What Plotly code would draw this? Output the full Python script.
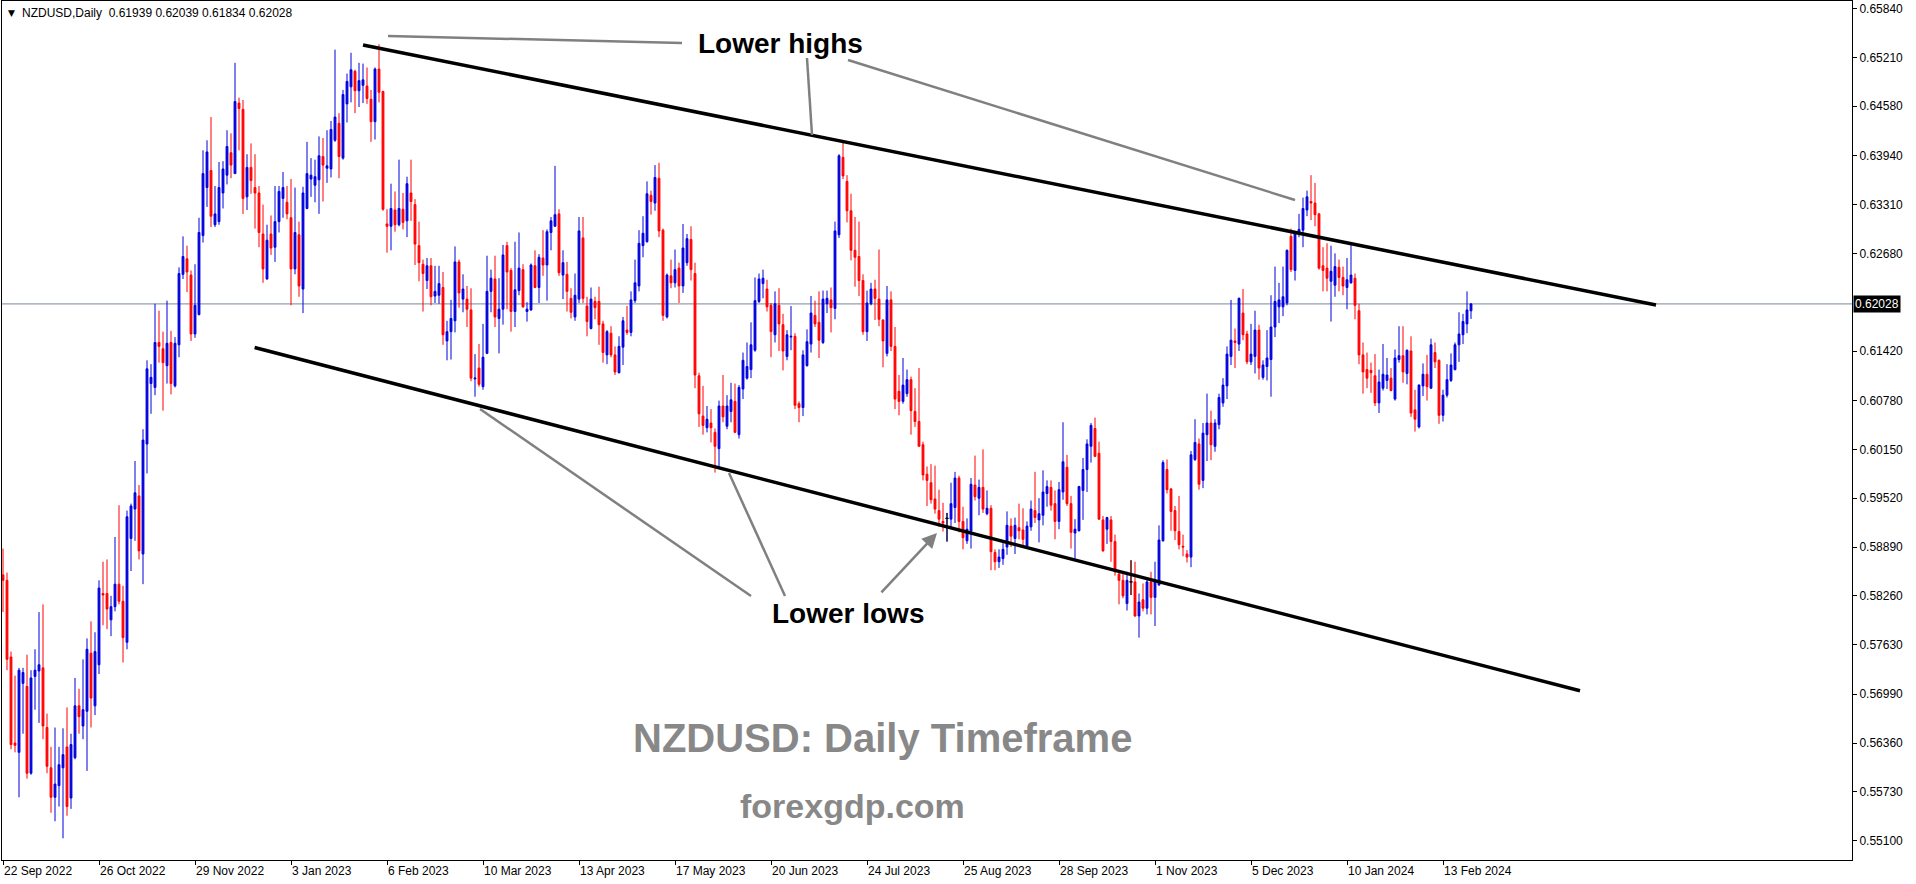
import plotly.graph_objects as go

# ---------------- data ----------------
opens = [
    0.5853, 0.5846, 0.5747, 0.5636, 0.5624, 0.5713, 0.5709, 0.5597, 0.5722, 0.5729,
    0.5733, 0.5656, 0.5604, 0.5566, 0.5581, 0.5604, 0.5631, 0.5565, 0.5617, 0.5684,
    0.5658, 0.5677, 0.5752, 0.5684, 0.5737, 0.5829, 0.5829, 0.5795, 0.5812, 0.5841,
    0.5819, 0.5766, 0.5900, 0.5938, 0.5955, 0.5880, 0.6022, 0.6100, 0.6095, 0.6153,
    0.6145, 0.6123, 0.6153, 0.6097, 0.6150, 0.6241, 0.6261, 0.6240, 0.6164, 0.6189,
    0.6291, 0.6353, 0.6375, 0.6305, 0.6309, 0.6346, 0.6369, 0.6398, 0.6371, 0.6462,
    0.6454, 0.6341, 0.6379, 0.6353, 0.6346, 0.6293, 0.6235, 0.6293, 0.6276, 0.6309,
    0.6339, 0.6334, 0.6314, 0.6248, 0.6292, 0.6222, 0.6326, 0.6364, 0.6356, 0.6363,
    0.6393, 0.6378, 0.6377, 0.6414, 0.6436, 0.6391, 0.6461, 0.6483, 0.6503, 0.6478,
    0.6485, 0.6484, 0.6467, 0.6438, 0.6506, 0.6477, 0.6306, 0.6303, 0.6324, 0.6305,
    0.6325, 0.6310, 0.6346, 0.6331, 0.6278, 0.6254, 0.6233, 0.6252, 0.6213, 0.6214,
    0.6224, 0.6155, 0.6167, 0.6181, 0.6257, 0.6209, 0.6209, 0.6195, 0.6106, 0.6120,
    0.6096, 0.6139, 0.6219, 0.6235, 0.6184, 0.6196, 0.6278, 0.6246, 0.6193, 0.6220,
    0.6247, 0.6193, 0.6195, 0.6252, 0.6224, 0.6262, 0.6253, 0.6295, 0.6303, 0.6319,
    0.6240, 0.6241, 0.6210, 0.6186, 0.6209, 0.6288, 0.6200, 0.6171, 0.6206, 0.6206,
    0.6177, 0.6137, 0.6165, 0.6137, 0.6114, 0.6147, 0.6169, 0.6166, 0.6207, 0.6226,
    0.6278, 0.6283, 0.6343, 0.6333, 0.6365, 0.6298, 0.6186, 0.6239, 0.6230, 0.6249,
    0.6226, 0.6256, 0.6286, 0.6242, 0.6110, 0.6058, 0.6043, 0.6049, 0.6037, 0.6016,
    0.6071, 0.6045, 0.6064, 0.6077, 0.6034, 0.6093, 0.6107, 0.6118, 0.6143, 0.6206,
    0.6229, 0.6222, 0.6201, 0.6163, 0.6201, 0.6176, 0.6135, 0.6160, 0.6161, 0.6074,
    0.6069, 0.6123, 0.6151, 0.6188, 0.6179, 0.6153, 0.6203, 0.6208, 0.6197, 0.6292,
    0.6392, 0.6361, 0.6323, 0.6272, 0.6264, 0.6233, 0.6167, 0.6203, 0.6222, 0.6209,
    0.6182, 0.6139, 0.6208, 0.6148, 0.6090, 0.6077, 0.6087, 0.6105, 0.6064, 0.6051,
    0.6021, 0.5983, 0.5972, 0.5951, 0.5936, 0.5922, 0.5926, 0.5925, 0.5940, 0.5978,
    0.5922, 0.5897, 0.5909, 0.5969, 0.5952, 0.5966, 0.5932, 0.5939, 0.5882, 0.5870,
    0.5874, 0.5889, 0.5916, 0.5900, 0.5914, 0.5911, 0.5890, 0.5915, 0.5936, 0.5924,
    0.5930, 0.5958, 0.5966, 0.5945, 0.5922, 0.5960, 0.5992, 0.5945, 0.5907, 0.5910,
    0.5962, 0.5989, 0.6019, 0.6042, 0.6010, 0.5924, 0.5912, 0.5924, 0.5896, 0.5854,
    0.5846, 0.5816, 0.5844, 0.5844, 0.5800, 0.5821, 0.5810, 0.5844, 0.5824, 0.5840,
    0.5897, 0.5989, 0.5964, 0.5936, 0.5909, 0.5890, 0.5880, 0.5876, 0.6002, 0.6022,
    0.5975, 0.6034, 0.6049, 0.6019, 0.6047, 0.6075, 0.6097, 0.6135, 0.6155, 0.6151,
    0.6191, 0.6164, 0.6128, 0.6135, 0.6169, 0.6108, 0.6122, 0.6131, 0.6173, 0.6199,
    0.6199, 0.6204, 0.6290, 0.6246, 0.6293, 0.6298, 0.6324, 0.6335, 0.6333, 0.6319,
    0.6252, 0.6249, 0.6232, 0.6227, 0.6250, 0.6237, 0.6224, 0.6230, 0.6236, 0.6194,
    0.6137, 0.6118, 0.6117, 0.6110, 0.6075, 0.6094, 0.6104, 0.6107, 0.6080, 0.6131,
    0.6136, 0.6113, 0.6142, 0.6066, 0.6044, 0.6097, 0.6112, 0.6094, 0.6140, 0.6130,
    0.6059, 0.6085, 0.6104, 0.6118, 0.6150, 0.6163, 0.6177, 0.61939,
]
highs = [
    0.5887, 0.5856, 0.5754, 0.5723, 0.5733, 0.5733, 0.5750, 0.5730, 0.5757, 0.5805,
    0.5815, 0.5674, 0.5631, 0.5656, 0.5631, 0.5655, 0.5682, 0.5648, 0.5720, 0.5706,
    0.5744, 0.5771, 0.5793, 0.5779, 0.5846, 0.5870, 0.5873, 0.5826, 0.5902, 0.5943,
    0.5839, 0.5936, 0.5945, 0.6000, 0.5969, 0.6041, 0.6130, 0.6125, 0.6203, 0.6194,
    0.6167, 0.6207, 0.6168, 0.6160, 0.6250, 0.6290, 0.6278, 0.6246, 0.6254, 0.6314,
    0.6401, 0.6414, 0.6444, 0.6355, 0.6386, 0.6387, 0.6427, 0.6423, 0.6514, 0.6469,
    0.6466, 0.6396, 0.6410, 0.6396, 0.6355, 0.6331, 0.6305, 0.6317, 0.6355, 0.6355,
    0.6373, 0.6355, 0.6364, 0.6353, 0.6309, 0.6354, 0.6412, 0.6391, 0.6389, 0.6419,
    0.6417, 0.6427, 0.6439, 0.6531, 0.6449, 0.6479, 0.6500, 0.6527, 0.6505, 0.6514,
    0.6513, 0.6508, 0.6479, 0.6508, 0.6538, 0.6478, 0.6325, 0.6358, 0.6348, 0.6389,
    0.6346, 0.6367, 0.6389, 0.6338, 0.6309, 0.6260, 0.6262, 0.6262, 0.6252, 0.6252,
    0.6244, 0.6181, 0.6208, 0.6277, 0.6260, 0.6241, 0.6226, 0.6223, 0.6138, 0.6151,
    0.6177, 0.6265, 0.6247, 0.6265, 0.6236, 0.6279, 0.6283, 0.6249, 0.6283, 0.6295,
    0.6254, 0.6205, 0.6255, 0.6272, 0.6267, 0.6298, 0.6299, 0.6315, 0.6381, 0.6325,
    0.6272, 0.6257, 0.6223, 0.6242, 0.6315, 0.6315, 0.6212, 0.6224, 0.6212, 0.6225,
    0.6181, 0.6169, 0.6174, 0.6148, 0.6161, 0.6186, 0.6200, 0.6219, 0.6260, 0.6298,
    0.6316, 0.6361, 0.6349, 0.6382, 0.6385, 0.6300, 0.6242, 0.6260, 0.6273, 0.6256,
    0.6306, 0.6293, 0.6303, 0.6256, 0.6114, 0.6097, 0.6071, 0.6067, 0.6042, 0.6078,
    0.6111, 0.6085, 0.6101, 0.6100, 0.6098, 0.6140, 0.6153, 0.6179, 0.6237, 0.6242,
    0.6247, 0.6234, 0.6204, 0.6219, 0.6223, 0.6190, 0.6169, 0.6200, 0.6165, 0.6077,
    0.6143, 0.6170, 0.6213, 0.6207, 0.6219, 0.6220, 0.6220, 0.6224, 0.6309, 0.6396,
    0.6411, 0.6369, 0.6345, 0.6315, 0.6309, 0.6241, 0.6220, 0.6230, 0.6234, 0.6273,
    0.6183, 0.6226, 0.6219, 0.6173, 0.6111, 0.6133, 0.6118, 0.6109, 0.6094, 0.6120,
    0.6025, 0.5993, 0.5996, 0.5994, 0.5963, 0.5946, 0.5933, 0.5972, 0.5986, 0.5981,
    0.5941, 0.5926, 0.5978, 0.6007, 0.5976, 0.6015, 0.5962, 0.5943, 0.5886, 0.5886,
    0.5894, 0.5935, 0.5926, 0.5927, 0.5945, 0.5939, 0.5922, 0.5949, 0.5986, 0.5952,
    0.5988, 0.5975, 0.5975, 0.5962, 0.5973, 0.6050, 0.6008, 0.5955, 0.5925, 0.5968,
    0.6004, 0.6028, 0.6049, 0.6056, 0.6025, 0.5929, 0.5928, 0.5929, 0.5905, 0.5857,
    0.5854, 0.5857, 0.5872, 0.5870, 0.5829, 0.5842, 0.5847, 0.5857, 0.5870, 0.5917,
    0.6001, 0.6002, 0.5965, 0.5942, 0.5955, 0.5905, 0.5885, 0.6013, 0.6054, 0.6029,
    0.6049, 0.6087, 0.6065, 0.6054, 0.6087, 0.6107, 0.6148, 0.6208, 0.6171, 0.6211,
    0.6222, 0.6168, 0.6177, 0.6194, 0.6176, 0.6130, 0.6169, 0.6214, 0.6251, 0.6230,
    0.6251, 0.6273, 0.6300, 0.6297, 0.6319, 0.6340, 0.6349, 0.6369, 0.6359, 0.6320,
    0.6276, 0.6281, 0.6278, 0.6268, 0.6260, 0.6251, 0.6262, 0.6279, 0.6242, 0.6203,
    0.6153, 0.6140, 0.6127, 0.6138, 0.6118, 0.6151, 0.6133, 0.6120, 0.6144, 0.6174,
    0.6174, 0.6144, 0.6161, 0.6092, 0.6099, 0.6126, 0.6137, 0.6158, 0.6153, 0.6131,
    0.6092, 0.6125, 0.6139, 0.6153, 0.6192, 0.6190, 0.6219, 0.62039,
]
lows = [
    0.5805, 0.5730, 0.5628, 0.5624, 0.5566, 0.5648, 0.5590, 0.5595, 0.5679, 0.5662,
    0.5641, 0.5597, 0.5546, 0.5535, 0.5554, 0.5513, 0.5542, 0.5551, 0.5615, 0.5648,
    0.5641, 0.5600, 0.5656, 0.5672, 0.5725, 0.5788, 0.5783, 0.5774, 0.5806, 0.5815,
    0.5740, 0.5757, 0.5858, 0.5897, 0.5873, 0.5841, 0.5984, 0.6061, 0.6085, 0.6127,
    0.6065, 0.6100, 0.6086, 0.6095, 0.6134, 0.6235, 0.6218, 0.6155, 0.6159, 0.6188,
    0.6282, 0.6328, 0.6302, 0.6302, 0.6305, 0.6326, 0.6357, 0.6365, 0.6371, 0.6401,
    0.6319, 0.6324, 0.6345, 0.6300, 0.6276, 0.6230, 0.6234, 0.6266, 0.6257, 0.6295,
    0.6314, 0.6312, 0.6201, 0.6241, 0.6212, 0.6191, 0.6325, 0.6341, 0.6334, 0.6319,
    0.6335, 0.6359, 0.6366, 0.6412, 0.6365, 0.6389, 0.6437, 0.6463, 0.6449, 0.6457,
    0.6462, 0.6461, 0.6412, 0.6415, 0.6463, 0.6323, 0.6269, 0.6272, 0.6296, 0.6303,
    0.6299, 0.6289, 0.6310, 0.6253, 0.6232, 0.6193, 0.6222, 0.6201, 0.6204, 0.6203,
    0.6150, 0.6130, 0.6131, 0.6166, 0.6198, 0.6192, 0.6173, 0.6103, 0.6083, 0.6096,
    0.6092, 0.6138, 0.6192, 0.6173, 0.6139, 0.6176, 0.6196, 0.6167, 0.6173, 0.6214,
    0.6198, 0.6180, 0.6194, 0.6223, 0.6204, 0.6239, 0.6207, 0.6272, 0.6303, 0.6239,
    0.6209, 0.6193, 0.6184, 0.6181, 0.6204, 0.6204, 0.6161, 0.6170, 0.6183, 0.6150,
    0.6127, 0.6125, 0.6134, 0.6111, 0.6113, 0.6124, 0.6163, 0.6161, 0.6204, 0.6219,
    0.6263, 0.6282, 0.6318, 0.6323, 0.6289, 0.6181, 0.6184, 0.6223, 0.6224, 0.6204,
    0.6217, 0.6252, 0.6233, 0.6094, 0.6044, 0.6034, 0.6037, 0.6024, 0.5985, 0.5992,
    0.6050, 0.6041, 0.6050, 0.6036, 0.6029, 0.6080, 0.6105, 0.6107, 0.6141, 0.6204,
    0.6210, 0.6193, 0.6134, 0.6153, 0.6142, 0.6117, 0.6130, 0.6143, 0.6067, 0.6050,
    0.6058, 0.6122, 0.6140, 0.6173, 0.6133, 0.6151, 0.6191, 0.6166, 0.6183, 0.6288,
    0.6364, 0.6308, 0.6259, 0.6225, 0.6213, 0.6163, 0.6155, 0.6201, 0.6182, 0.6174,
    0.6121, 0.6135, 0.6142, 0.6067, 0.6059, 0.6074, 0.6083, 0.6034, 0.6044, 0.6019,
    0.5975, 0.5942, 0.5945, 0.5932, 0.5915, 0.5909, 0.5896, 0.5914, 0.5920, 0.5908,
    0.5886, 0.5893, 0.5887, 0.5949, 0.5930, 0.5933, 0.5930, 0.5859, 0.5859, 0.5862,
    0.5866, 0.5879, 0.5889, 0.5880, 0.5899, 0.5889, 0.5888, 0.5910, 0.5920, 0.5895,
    0.5917, 0.5941, 0.5936, 0.5899, 0.5912, 0.5950, 0.5942, 0.5887, 0.5874, 0.5909,
    0.5924, 0.5960, 0.5998, 0.6006, 0.5924, 0.5883, 0.5893, 0.5870, 0.5852, 0.5815,
    0.5823, 0.5807, 0.5827, 0.5799, 0.5772, 0.5806, 0.5802, 0.5802, 0.5787, 0.5839,
    0.5896, 0.5958, 0.5910, 0.5898, 0.5886, 0.5877, 0.5869, 0.5863, 0.6000, 0.5963,
    0.5965, 0.6000, 0.6001, 0.6012, 0.6041, 0.6070, 0.6080, 0.6124, 0.6120, 0.6142,
    0.6156, 0.6125, 0.6124, 0.6113, 0.6105, 0.6105, 0.6104, 0.6083, 0.6160, 0.6178,
    0.6187, 0.6201, 0.6244, 0.6233, 0.6289, 0.6276, 0.6316, 0.6311, 0.6303, 0.6247,
    0.6219, 0.6219, 0.6180, 0.6212, 0.6219, 0.6214, 0.6196, 0.6229, 0.6183, 0.6125,
    0.6087, 0.6094, 0.6088, 0.6071, 0.6062, 0.6091, 0.6093, 0.6090, 0.6078, 0.6127,
    0.6101, 0.6099, 0.6057, 0.6038, 0.6042, 0.6084, 0.6078, 0.6093, 0.6120, 0.6048,
    0.6051, 0.6082, 0.6102, 0.6117, 0.6128, 0.6151, 0.6165, 0.61834,
]
closes = [
    0.5846, 0.5744, 0.5634, 0.5633, 0.5730, 0.5727, 0.5597, 0.5720, 0.5730, 0.5737,
    0.5658, 0.5606, 0.5566, 0.5583, 0.5608, 0.5621, 0.5554, 0.5634, 0.5684, 0.5670,
    0.5679, 0.5757, 0.5694, 0.5754, 0.5836, 0.5827, 0.5809, 0.5812, 0.5841, 0.5819,
    0.5772, 0.5928, 0.5942, 0.5959, 0.5884, 0.6027, 0.6119, 0.6108, 0.6153, 0.6148,
    0.6127, 0.6152, 0.6100, 0.6152, 0.6242, 0.6264, 0.6244, 0.6164, 0.6201, 0.6295,
    0.6371, 0.6399, 0.6316, 0.6319, 0.6353, 0.6377, 0.6406, 0.6382, 0.6464, 0.6455,
    0.6339, 0.6379, 0.6362, 0.6346, 0.6295, 0.6248, 0.6285, 0.6275, 0.6309, 0.6348,
    0.6353, 0.6319, 0.6248, 0.6295, 0.6226, 0.6346, 0.6371, 0.6369, 0.6367, 0.6394,
    0.6382, 0.6381, 0.6428, 0.6444, 0.6393, 0.6473, 0.6490, 0.6505, 0.6478, 0.6491,
    0.6492, 0.6468, 0.6438, 0.6506, 0.6476, 0.6325, 0.6303, 0.6326, 0.6305, 0.6326,
    0.6308, 0.6358, 0.6335, 0.6280, 0.6256, 0.6242, 0.6252, 0.6212, 0.6219, 0.6229,
    0.6163, 0.6167, 0.6184, 0.6257, 0.6217, 0.6222, 0.6196, 0.6107, 0.6107, 0.6099,
    0.6134, 0.6219, 0.6236, 0.6186, 0.6196, 0.6266, 0.6244, 0.6193, 0.6221, 0.6249,
    0.6199, 0.6196, 0.6253, 0.6224, 0.6263, 0.6253, 0.6296, 0.6310, 0.6318, 0.6243,
    0.6256, 0.6219, 0.6192, 0.6214, 0.6297, 0.6210, 0.6180, 0.6209, 0.6198, 0.6176,
    0.6140, 0.6167, 0.6137, 0.6115, 0.6148, 0.6181, 0.6166, 0.6208, 0.6230, 0.6281,
    0.6294, 0.6345, 0.6335, 0.6366, 0.6297, 0.6188, 0.6240, 0.6230, 0.6247, 0.6226,
    0.6275, 0.6287, 0.6247, 0.6111, 0.6061, 0.6046, 0.6054, 0.6043, 0.6019, 0.6071,
    0.6057, 0.6071, 0.6079, 0.6037, 0.6095, 0.6130, 0.6122, 0.6150, 0.6207, 0.6235,
    0.6236, 0.6199, 0.6167, 0.6203, 0.6177, 0.6142, 0.6163, 0.6161, 0.6072, 0.6069,
    0.6137, 0.6154, 0.6191, 0.6177, 0.6156, 0.6209, 0.6210, 0.6198, 0.6297, 0.6394,
    0.6368, 0.6323, 0.6272, 0.6263, 0.6233, 0.6167, 0.6204, 0.6222, 0.6210, 0.6183,
    0.6155, 0.6208, 0.6148, 0.6080, 0.6077, 0.6098, 0.6105, 0.6065, 0.6051, 0.6019,
    0.5982, 0.5975, 0.5950, 0.5938, 0.5925, 0.5920, 0.5926, 0.5945, 0.5978, 0.5922,
    0.5901, 0.5912, 0.5970, 0.5954, 0.5966, 0.5938, 0.5939, 0.5883, 0.5870, 0.5876,
    0.5886, 0.5917, 0.5903, 0.5917, 0.5910, 0.5899, 0.5916, 0.5938, 0.5927, 0.5932,
    0.5960, 0.5967, 0.5943, 0.5922, 0.5963, 0.5999, 0.5945, 0.5908, 0.5912, 0.5967,
    0.5989, 0.6022, 0.6046, 0.6006, 0.5925, 0.5884, 0.5927, 0.5896, 0.5857, 0.5846,
    0.5826, 0.5846, 0.5844, 0.5800, 0.5818, 0.5810, 0.5844, 0.5824, 0.5846, 0.5898,
    0.5998, 0.5963, 0.5935, 0.5910, 0.5892, 0.5889, 0.5876, 0.6008, 0.6024, 0.5970,
    0.6036, 0.6049, 0.6021, 0.6049, 0.6082, 0.6098, 0.6138, 0.6156, 0.6153, 0.6210,
    0.6163, 0.6128, 0.6138, 0.6169, 0.6120, 0.6124, 0.6133, 0.6173, 0.6206, 0.6208,
    0.6212, 0.6272, 0.6247, 0.6296, 0.6299, 0.6326, 0.6341, 0.6333, 0.6318, 0.6249,
    0.6246, 0.6236, 0.6245, 0.6251, 0.6237, 0.6226, 0.6234, 0.6240, 0.6201, 0.6137,
    0.6115, 0.6107, 0.6114, 0.6075, 0.6102, 0.6112, 0.6111, 0.6091, 0.6133, 0.6136,
    0.6115, 0.6143, 0.6062, 0.6054, 0.6098, 0.6112, 0.6096, 0.6150, 0.6128, 0.6059,
    0.6085, 0.6105, 0.6124, 0.6150, 0.6164, 0.6180, 0.6195, 0.62028,
]

date_ticks = [0, 24, 48, 72, 96, 120, 144, 168, 192, 216, 240, 264, 288, 312, 336, 360]
date_labels = ["22 Sep 2022", "26 Oct 2022", "29 Nov 2022", "3 Jan 2023", "6 Feb 2023",
               "10 Mar 2023", "13 Apr 2023", "17 May 2023", "20 Jun 2023", "24 Jul 2023",
               "25 Aug 2023", "28 Sep 2023", "1 Nov 2023", "5 Dec 2023", "10 Jan 2024",
               "13 Feb 2024"]
price_ticks = [0.65840, 0.65210, 0.64580, 0.63940, 0.63310, 0.62680, 0.61420, 0.60780,
               0.60150, 0.59520, 0.58890, 0.58260, 0.57630, 0.56990, 0.56360, 0.55730, 0.55100]
last_price = 0.62028
header_text = "NZDUSD,Daily  0.61939 0.62039 0.61834 0.62028"

# drawn objects, anchored in (bar index, price)
upper_channel = [(90.0, 0.65370), (413.25, 0.62014)]
lower_channel = [(62.9, 0.61465), (394.25, 0.57034)]
pointer_lines = [
    [(96.25, 0.65486), (169.75, 0.65396)],
    [(201.0, 0.65202), (202.25, 0.64208)],
    [(211.25, 0.65177), (323.0, 0.63369)],
    [(119.25, 0.60671), (187.0, 0.58258)],
    [(181.5, 0.59845), (195.5, 0.58258)],
]
pointer_arrow = [(219.25, 0.58284), (233.5, 0.59071)]

assert len(opens) == len(highs) == len(lows) == len(closes), (len(opens), len(highs), len(lows), len(closes))

# ---------------- figure ----------------
W, H = 1916, 884
PL, PR, PT, PB = 2, 1852, 1, 860
BLUE = "#0000DD"
RED = "#FF0000"
GRAY = "#888888"
FONT = "Liberation Sans"

xs = list(range(len(closes)))

fig = go.Figure()
fig.add_trace(go.Candlestick(
    x=xs, open=opens, high=highs, low=lows, close=closes,
    increasing=dict(line=dict(color=BLUE, width=1), fillcolor=BLUE),
    decreasing=dict(line=dict(color=RED, width=1), fillcolor=RED),
    whiskerwidth=0, hoverinfo="skip", showlegend=False,
))

# doji bars drawn as black crosses
dx, dy = [], []
for i in xs:
    if opens[i] == closes[i]:
        dx += [i, i, None, i - 0.45, i + 0.45, None]
        dy += [lows[i], highs[i], None, opens[i], opens[i], None]
if dx:
    fig.add_trace(go.Scatter(x=dx, y=dy, mode="lines", line=dict(color="black", width=1),
                             hoverinfo="skip", showlegend=False))

shapes = []
# last price line
shapes.append(dict(type="line", xref="paper", yref="y", x0=0, x1=1, y0=last_price, y1=last_price,
                   line=dict(color="#778899", width=1), layer="below"))
for (a, b) in (upper_channel, lower_channel):
    shapes.append(dict(type="line", xref="x", yref="y", x0=a[0], y0=a[1], x1=b[0], y1=b[1],
                       line=dict(color="black", width=3.5)))
for (a, b) in pointer_lines:
    shapes.append(dict(type="line", xref="x", yref="y", x0=a[0], y0=a[1], x1=b[0], y1=b[1],
                       line=dict(color="#808080", width=2.5)))


def px_x(p):
    return (p - PL) / (PR - PL)


def px_y(p):
    return 1 - (p - PT) / (PB - PT)


annotations = [
    dict(x=pointer_arrow[1][0], y=pointer_arrow[1][1], ax=pointer_arrow[0][0], ay=pointer_arrow[0][1],
         xref="x", yref="y", axref="x", ayref="y", text="", showarrow=True,
         arrowhead=2, arrowsize=1.2, arrowwidth=2.5, arrowcolor="#808080"),
    dict(x=px_x(780), y=px_y(43), xref="paper", yref="paper", text="Lower highs", showarrow=False,
         xanchor="center", yanchor="middle",
         font=dict(family=FONT, size=28, color="black", weight="bold")),
    dict(x=px_x(848), y=px_y(613), xref="paper", yref="paper", text="Lower lows", showarrow=False,
         xanchor="center", yanchor="middle",
         font=dict(family=FONT, size=28, color="black", weight="bold")),
    dict(x=px_x(882), y=px_y(738), xref="paper", yref="paper", text="NZDUSD: Daily Timeframe",
         showarrow=False, xanchor="center", yanchor="middle",
         font=dict(family=FONT, size=40, color=GRAY, weight="bold")),
    dict(x=px_x(852), y=px_y(806), xref="paper", yref="paper", text="forexgdp.com",
         showarrow=False, xanchor="center", yanchor="middle",
         font=dict(family=FONT, size=34, color=GRAY, weight="bold")),
    dict(x=px_x(6), y=px_y(13), xref="paper", yref="paper", text="\u25BC", showarrow=False,
         xanchor="left", yanchor="middle", font=dict(family="DejaVu Sans", size=9, color="black")),
    dict(x=px_x(20), y=px_y(13), xref="paper", yref="paper", text=header_text, showarrow=False,
         xanchor="left", yanchor="middle", font=dict(family=FONT, size=12, color="black")),
    dict(x=1, y=last_price, xref="paper", yref="y", text=f"{last_price:.5f}", showarrow=False,
         xanchor="left", yanchor="middle", xshift=1, bgcolor="black", borderpad=1,
         font=dict(family=FONT, size=12, color="white")),
]

fig.update_layout(
    width=W, height=H,
    margin=dict(l=PL, r=W - PR, t=PT, b=H - PB, pad=0),
    paper_bgcolor="white", plot_bgcolor="white",
    showlegend=False, boxgap=0.35,
    shapes=shapes, annotations=annotations,
    xaxis=dict(range=[-0.25, 462.25], showgrid=False, zeroline=False,
               showline=True, linecolor="black", linewidth=1, mirror=True,
               ticks="outside", ticklen=4, tickcolor="black", tickwidth=1,
               tickvals=date_ticks, ticktext=date_labels,
               ticklabelposition="outside right",
               tickfont=dict(family=FONT, size=12, color="black"),
               rangeslider=dict(visible=False), fixedrange=True),
    yaxis=dict(range=[0.54850, 0.65938], side="right", showgrid=False, zeroline=False,
               showline=True, linecolor="black", linewidth=1, mirror=True,
               ticks="outside", ticklen=4, tickcolor="black", tickwidth=1,
               tickvals=price_ticks, ticktext=[f"{v:.5f}" for v in price_ticks],
               tickfont=dict(family=FONT, size=12, color="black"), fixedrange=True),
)

fig.write_html("out.html", config={"displayModeBar": False})
